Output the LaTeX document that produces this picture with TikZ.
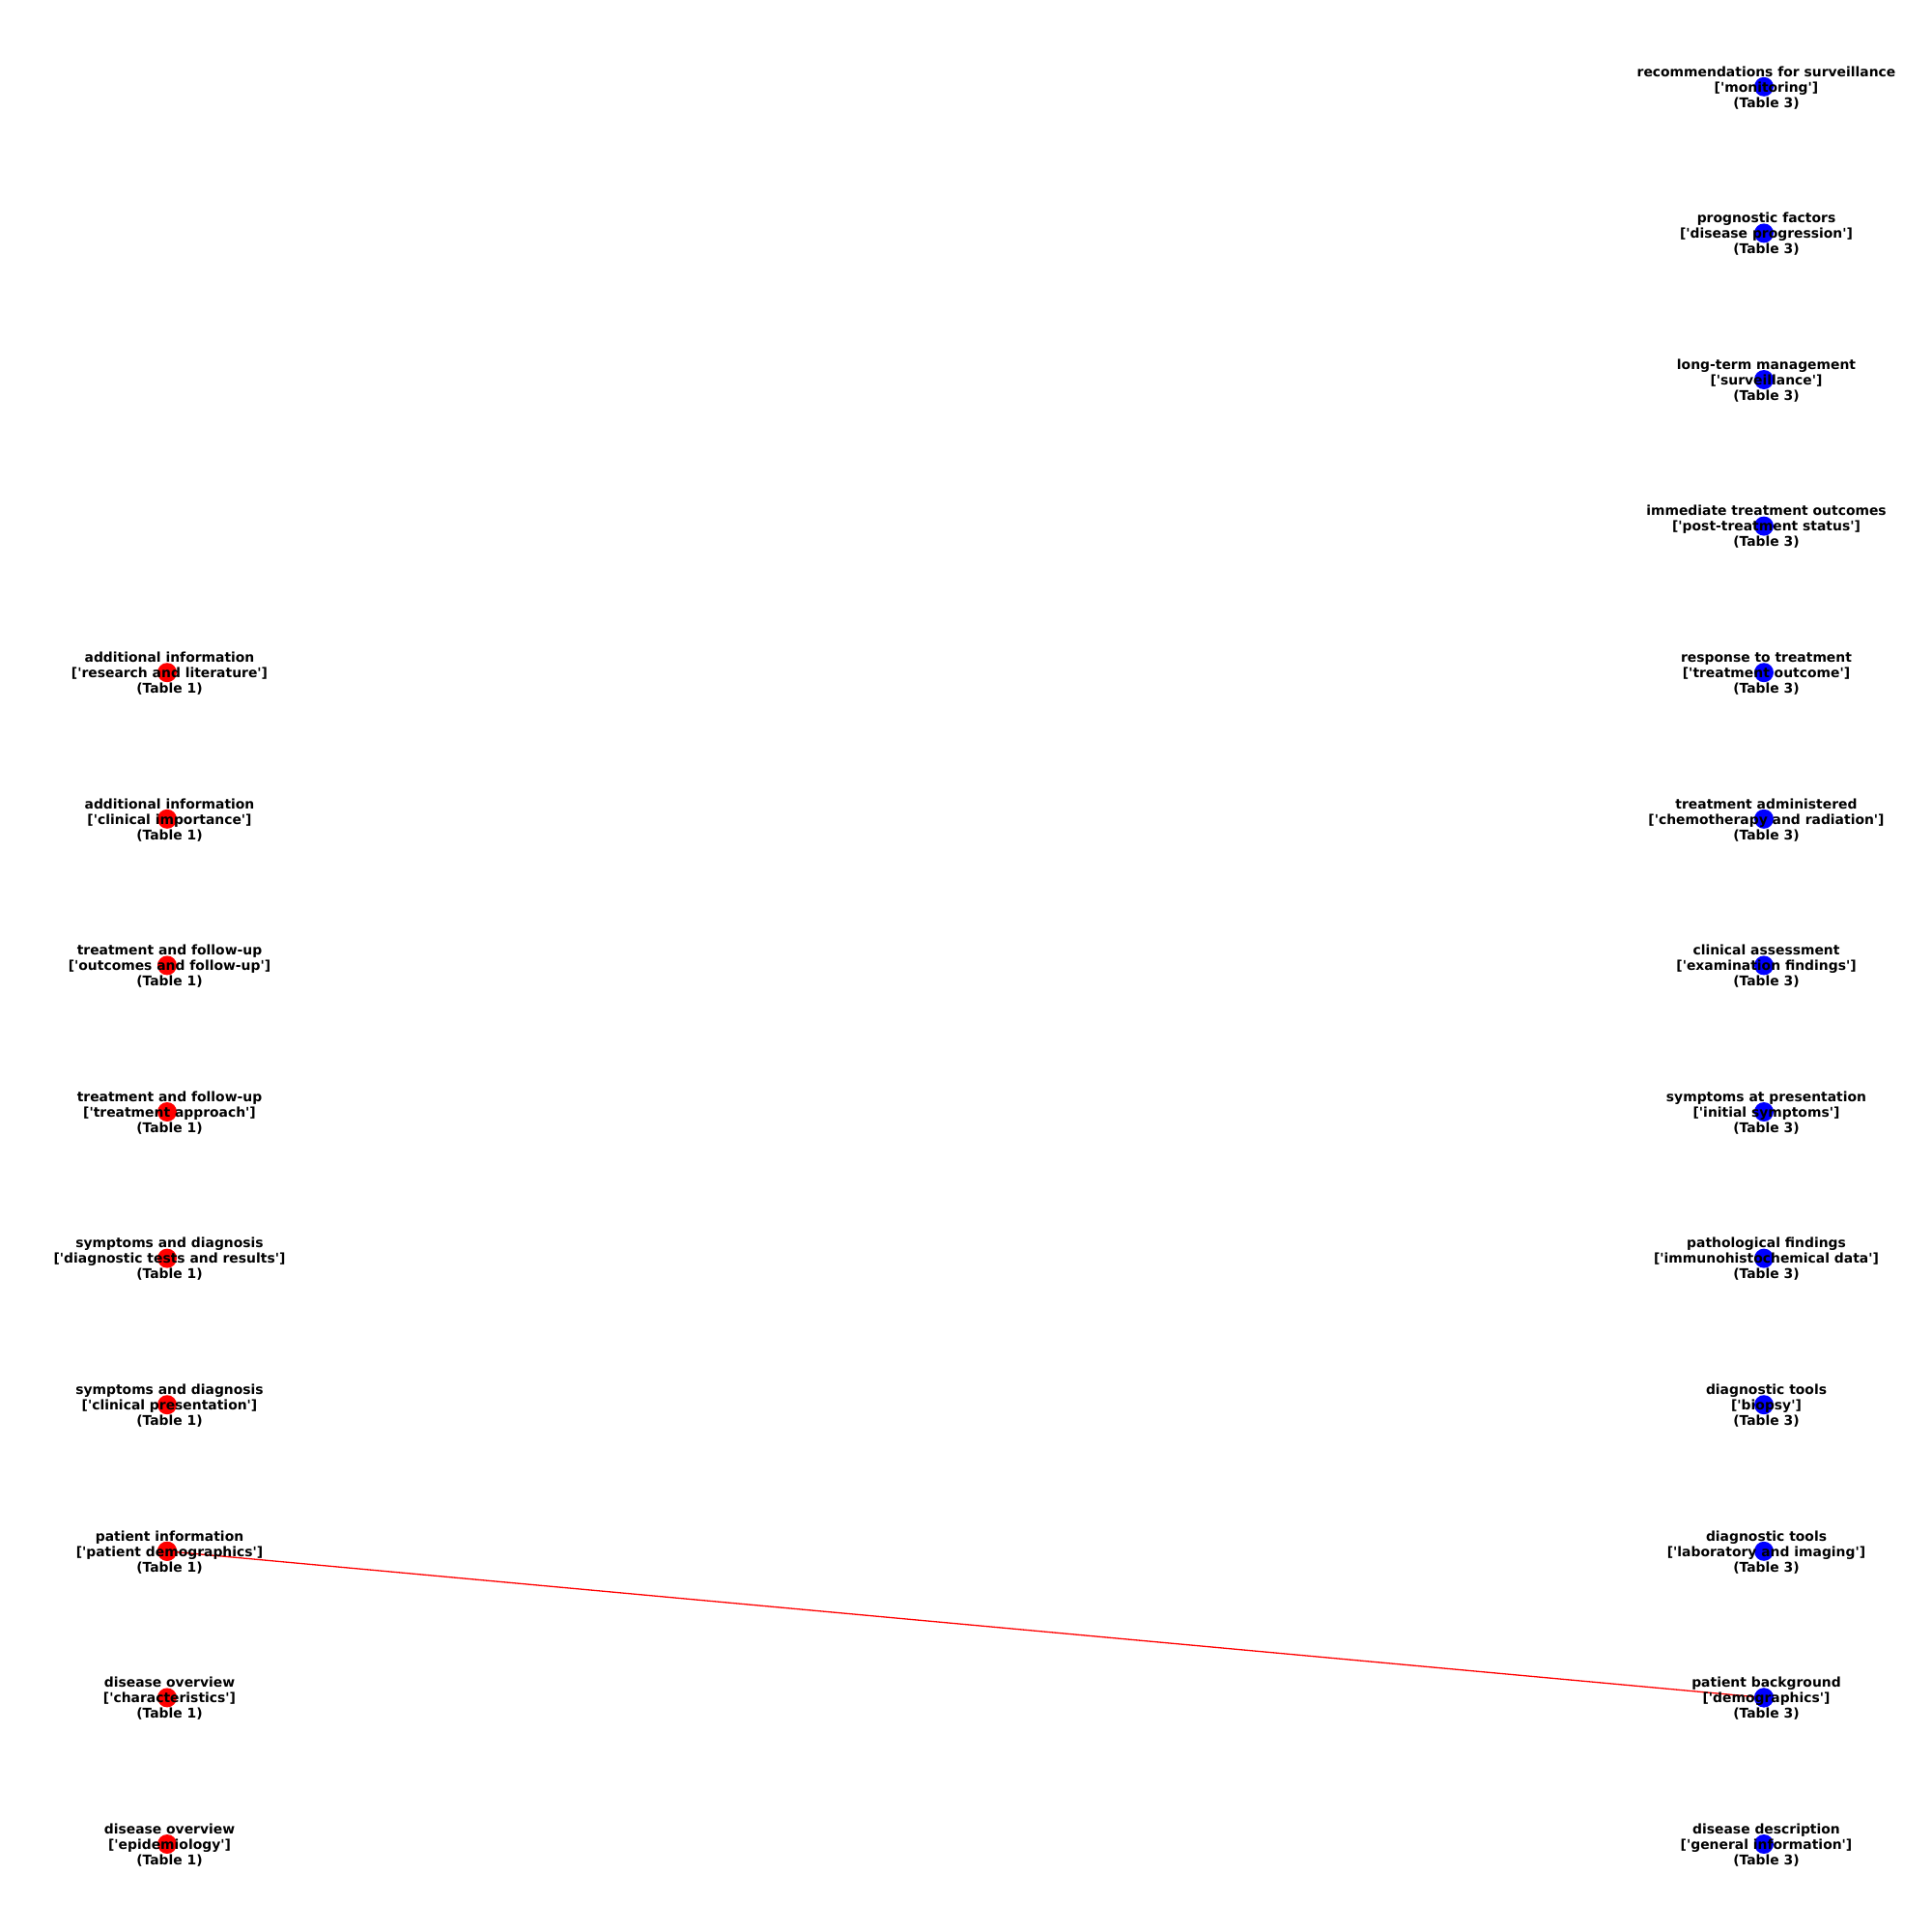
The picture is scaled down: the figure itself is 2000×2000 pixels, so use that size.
\documentclass[tikz,border=0pt]{standalone}
\usepackage{fontspec}
\setmainfont{DejaVu Sans}[Ligatures=TeXOff]
\begin{document}
\begin{tikzpicture}[x={(1bp,0)},y={(0,-1bp)},
  lab/.style={align=center,inner sep=0pt,xshift=2.5bp,yshift=-1bp,font=\bfseries\fontsize{13.9bp}{16bp}\selectfont,text=black},
  rdot/.style={circle,fill=red,draw=none,minimum size=20bp,inner sep=0pt},
  bdot/.style={circle,fill=blue,draw=none,minimum size=20bp,inner sep=0pt},
  edge/.style={draw=red,line width=1.3bp}]
\useasboundingbox (0,0) rectangle (2000,2000);
\foreach \k/\t/\s in {0/disease overview/epidemiology,1/disease overview/characteristics,2/patient information/patient demographics,3/symptoms and diagnosis/clinical presentation,4/symptoms and diagnosis/diagnostic tests and results,5/treatment and follow-up/treatment approach,6/treatment and follow-up/outcomes and follow-up,7/additional information/clinical importance,8/additional information/research and literature}{
  \node[rdot] (L\k) at (173,1909-151.6*\k) {};
}
\foreach \k/\t/\s in {0/disease description/general information,1/patient background/demographics,2/diagnostic tools/laboratory and imaging,3/diagnostic tools/biopsy,4/pathological findings/immunohistochemical data,5/symptoms at presentation/initial symptoms,6/clinical assessment/examination findings,7/treatment administered/chemotherapy and radiation,8/response to treatment/treatment outcome,9/immediate treatment outcomes/post-treatment status,10/long-term management/surveillance,11/prognostic factors/disease progression,12/recommendations for surveillance/monitoring}{
  \node[bdot] (R\k) at (1826,1909-151.6*\k) {};
}
\draw[edge] (L2.center) -- (R1.center);
\node[rdot] at (L2.center) {};
\node[bdot] at (R1.center) {};
\foreach \k/\t/\s in {0/disease overview/epidemiology,1/disease overview/characteristics,2/patient information/patient demographics,3/symptoms and diagnosis/clinical presentation,4/symptoms and diagnosis/diagnostic tests and results,5/treatment and follow-up/treatment approach,6/treatment and follow-up/outcomes and follow-up,7/additional information/clinical importance,8/additional information/research and literature}{
  \node[lab] (LT\k) at (L\k.center) {\t\\{[}'\s'{]}\\(Table 1)};
}
\foreach \k/\t/\s in {0/disease description/general information,1/patient background/demographics,2/diagnostic tools/laboratory and imaging,3/diagnostic tools/biopsy,4/pathological findings/immunohistochemical data,5/symptoms at presentation/initial symptoms,6/clinical assessment/examination findings,7/treatment administered/chemotherapy and radiation,8/response to treatment/treatment outcome,9/immediate treatment outcomes/post-treatment status,10/long-term management/surveillance,11/prognostic factors/disease progression,12/recommendations for surveillance/monitoring}{
  \node[lab] (RT\k) at (R\k.center) {\t\\{[}'\s'{]}\\(Table 3)};
}
\end{tikzpicture}
\end{document}
